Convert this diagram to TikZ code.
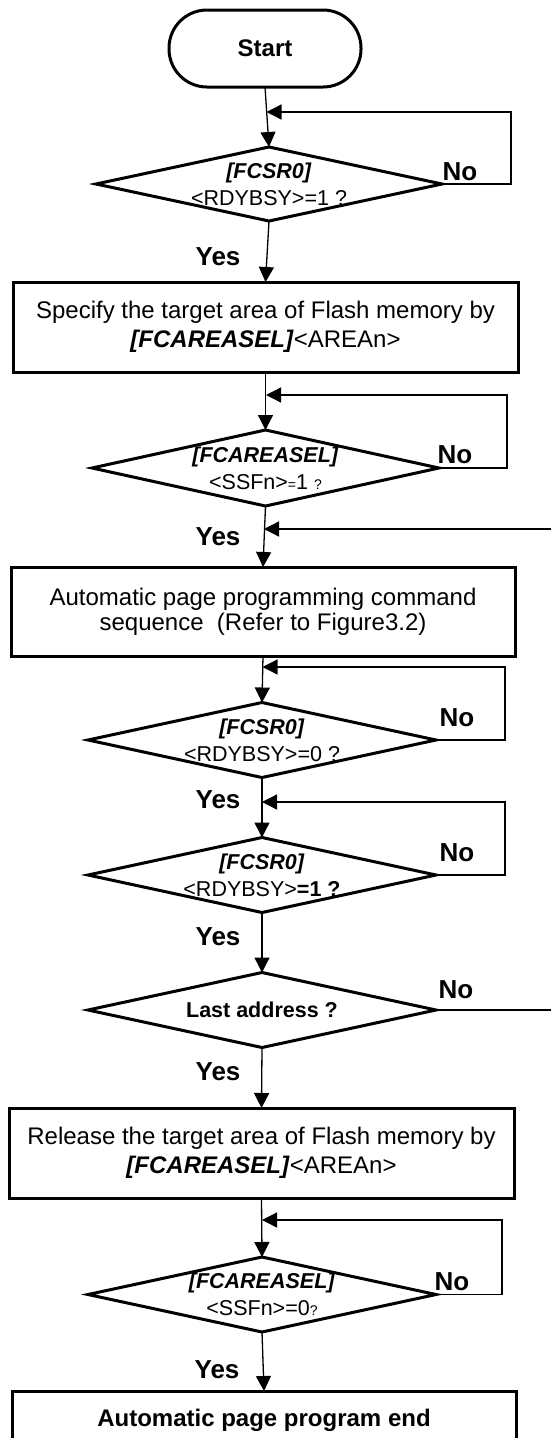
\documentclass[tikz,border=0pt]{standalone}
\usepackage{fontspec}
\setmainfont{Liberation Sans}
\usetikzlibrary{shapes.geometric,arrows.meta}
\newcommand\smallq{\fontsize{14}{14}\selectfont}
\newcommand\reg[1]{\textbf{\textit{#1}}}
\begin{document}
\begin{tikzpicture}[x=1pt,y=-1pt,
  box/.style={draw, line width=3pt, rectangle, inner sep=0pt, outer sep=0pt,
    align=center, font=\fontsize{24}{29}\selectfont},
  term/.style={draw, line width=3pt, rectangle, rounded corners=38pt,
    minimum width=192pt, minimum height=77pt, inner sep=0pt, outer sep=0pt,
    font=\bfseries\fontsize{24}{26}\selectfont},
  dec/.style={draw, line width=3pt, diamond, minimum width=348pt,
    minimum height=75pt, inner sep=0pt, outer sep=0pt},
  dtext/.style={align=center, inner sep=0pt, font=\fontsize{21.5}{27}\selectfont},
  flow/.style={line width=1.3pt, -{Triangle[length=15pt,width=15pt]}},
  lbl/.style={font=\bfseries\fontsize{26}{26}\selectfont, inner sep=0pt}
]
\useasboundingbox (0,0) rectangle (551,1438);

% terminal and process boxes
\node[term] (start) at (265,48.5) {Start};
\node[box, minimum width=505pt, minimum height=90pt] (b1) at (265.5,327)
  {Specify the target area of Flash memory by\\ \reg{[FCAREASEL]}<AREAn>};
\node[box, minimum width=504pt, minimum height=89pt, font=\fontsize{24}{25}\selectfont] (b2) at (263,611.5)
  {Automatic page programming command\\ sequence\ \ (Refer to Figure3.2)};
\node[box, minimum width=505pt, minimum height=90pt] (b3) at (261.5,1153)
  {Release the target area of Flash memory by\\ \reg{[FCAREASEL]}<AREAn>};
\node[box, minimum width=504pt, minimum height=59pt, font=\bfseries\fontsize{24}{26}\selectfont] (b4) at (264,1420.5)
  {Automatic page program end};

% decisions
\node[dec, minimum width=346pt, minimum height=74pt] (d1) at (269,184) {};
\node[dtext] at (d1) {\reg{[FCSR0]}\\<RDYBSY>=1 ?};
\node[dec, minimum width=347pt, minimum height=76pt] (d2) at (265.5,468) {};
\node[dtext] at (d2) {\reg{[FCAREASEL]}\\<SSFn>{\smallq=}1 {\smallq ?}};
\node[dec] (d3) at (262,740) {};
\node[dtext] at (d3) {\reg{[FCSR0]}\\<RDYBSY>=0 ?};
\node[dec] (d4) at (262,875) {};
\node[dtext] at (d4) {\reg{[FCSR0]}\\<RDYBSY>\textbf{=1 ?}};
\node[dec] (d5) at (262,1010) {};
\node[dtext] at (d5) {\textbf{Last address ?}};
\node[dec] (d6) at (262,1294.5) {};
\node[dtext] at (d6) {\reg{[FCAREASEL]}\\<SSFn>=0{\smallq ?}};

% junctions where loops rejoin the main line
\coordinate (j1) at (266.5,112);
\coordinate (j2) at (266,395);
\coordinate (j3) at (264,529);
\coordinate (j4) at (262.5,667);
\coordinate (j5) at (262,802);
\coordinate (j6) at (262,1220);

% main flow
\draw[flow] (start.south) -- (d1.north);
\draw[flow] (d1.south) -- (b1.north);
\draw[flow] (b1.south) -- (d2.north);
\draw[flow] (d2.south) -- (b2.north);
\draw[flow] (b2.south) -- (d3.north);
\draw[flow] (d3.south) -- (d4.north);
\draw[flow] (d4.south) -- (d5.north);
\draw[flow] (d5.south) -- (b3.north);
\draw[flow] (b3.south) -- (d6.north);
\draw[flow] (d6.south) -- (b4.north);

% "No" loops
\draw[flow] (d1.east) -- ++(69,0) |- (j1);
\draw[flow] (d2.east) -- ++(68,0) |- (j2);
\draw[flow] (d3.east) -- ++(69,0) |- (j4);
\draw[flow] (d4.east) -- ++(69,0) |- (j5);
\draw[flow] (d5.east) -- ++(117,0) |- (j3);
\draw[flow] (d6.east) -- ++(66,0) |- (j6);

% branch labels
\node[lbl] at (460,172) {No};
\node[lbl] at (455,455) {No};
\node[lbl] at (457,718) {No};
\node[lbl] at (457,853) {No};
\node[lbl] at (456,990) {No};
\node[lbl] at (452,1282) {No};
\node[lbl] at (218,257) {Yes};
\node[lbl] at (218,537) {Yes};
\node[lbl] at (218,800) {Yes};
\node[lbl] at (218,937) {Yes};
\node[lbl] at (218,1072) {Yes};
\node[lbl] at (217,1370) {Yes};
\end{tikzpicture}
\end{document}
